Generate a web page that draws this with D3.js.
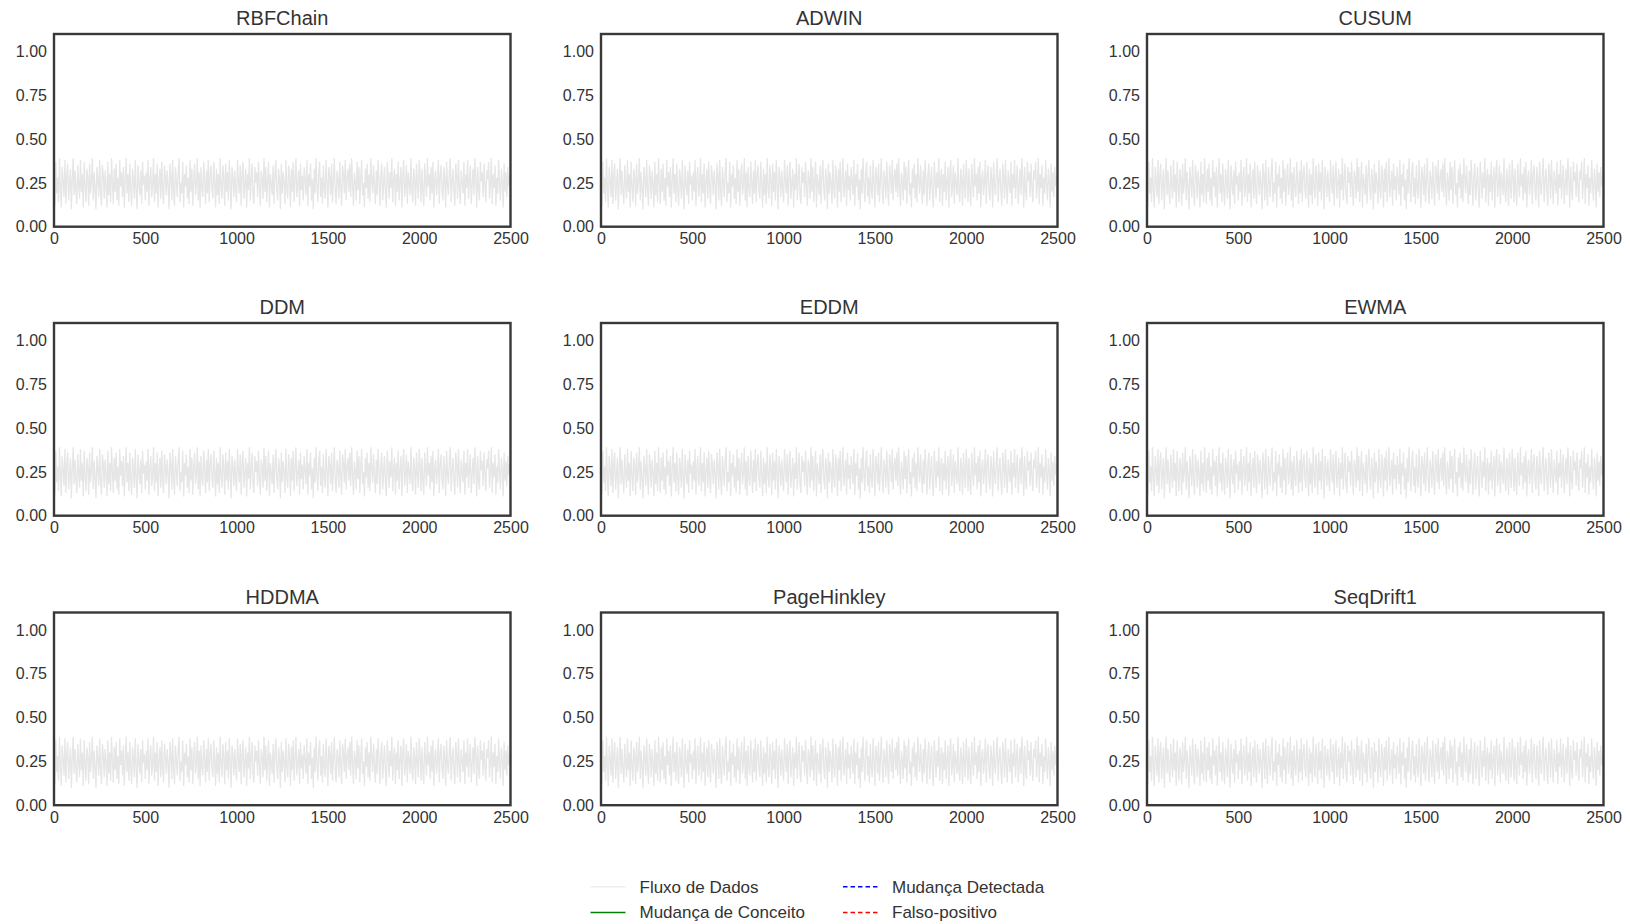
<!DOCTYPE html>
<html>
<head>
<meta charset="utf-8">
<script src="https://cdn.jsdelivr.net/npm/d3@7"></script>
<style>
  html, body { margin: 0; padding: 0; background: #fff; }
  svg { display: block; font-family: "Liberation Sans", Arial, sans-serif; }
</style>
</head>
<body>
<svg id="chart" width="1630" height="924"></svg>
<script>
const detectors = ["RBFChain", "ADWIN", "CUSUM", "DDM", "EDDM", "EWMA", "HDDMA", "PageHinkley", "SeqDrift1"];
const xTicks = [0, 500, 1000, 1500, 2000, 2500];
const yTicks = [0.00, 0.25, 0.50, 0.75, 1.00];
const streamLength = 2500;
const sampleStep = 5;
const legendItems = ["Fluxo de Dados", "Mudança de Conceito", "Mudança Detectada", "Falso-positivo"];
// Data stream values (sampled every 5 instances), read as a band between ~0.10 and ~0.40
const stream = [
0.31,0.12,0.37,0.19,0.28,0.14,0.39,0.22,0.11,0.34,0.26,0.17,0.38,0.13,0.29,0.36,0.15,0.24,0.33,0.10,0.27,0.39,0.18,0.32,0.21,
0.13,0.35,0.25,0.16,0.38,0.20,0.30,0.11,0.37,0.23,0.14,0.33,0.28,0.12,0.36,0.19,0.26,0.39,0.15,0.31,0.22,0.10,0.34,0.27,0.17,
0.38,0.21,0.12,0.35,0.29,0.16,0.32,0.24,0.11,0.37,0.18,0.30,0.14,0.39,0.25,0.13,0.33,0.20,0.36,0.15,0.28,0.12,0.38,0.23,0.31,
0.17,0.34,0.11,0.26,0.39,0.19,0.30,0.14,0.36,0.22,0.12,0.33,0.27,0.16,0.38,0.21,0.10,0.35,0.25,0.18,0.32,0.13,0.37,0.24,0.29,
0.15,0.31,0.20,0.38,0.12,0.27,0.34,0.17,0.23,0.39,0.14,0.30,0.19,0.36,0.11,0.26,0.33,0.16,0.37,0.22,0.13,0.35,0.28,0.18,0.32,
0.24,0.10,0.36,0.29,0.15,0.38,0.21,0.12,0.34,0.26,0.17,0.31,0.39,0.14,0.25,0.19,0.37,0.11,0.30,0.23,0.35,0.16,0.28,0.13,0.38,
0.20,0.33,0.12,0.27,0.36,0.18,0.24,0.39,0.15,0.31,0.11,0.34,0.22,0.17,0.37,0.26,0.13,0.32,0.19,0.38,0.14,0.29,0.35,0.21,0.16,
0.37,0.25,0.11,0.33,0.18,0.30,0.13,0.39,0.23,0.16,0.35,0.27,0.12,0.36,0.20,0.31,0.15,0.38,0.24,0.10,0.34,0.28,0.17,0.32,0.22,
0.14,0.38,0.26,0.19,0.35,0.12,0.29,0.37,0.16,0.24,0.33,0.11,0.30,0.21,0.39,0.15,0.27,0.36,0.18,0.13,0.34,0.25,0.31,0.17,0.37,
0.23,0.12,0.32,0.28,0.16,0.39,0.20,0.34,0.14,0.26,0.37,0.11,0.30,0.24,0.18,0.35,0.13,0.29,0.38,0.21,0.15,0.33,0.27,0.10,0.36,
0.19,0.31,0.25,0.13,0.38,0.22,0.16,0.35,0.28,0.11,0.33,0.20,0.37,0.14,0.27,0.39,0.17,0.24,0.32,0.12,0.36,0.21,0.29,0.15,0.34,
0.26,0.18,0.38,0.12,0.30,0.23,0.36,0.15,0.27,0.10,0.33,0.19,0.39,0.24,0.14,0.31,0.37,0.17,0.28,0.13,0.35,0.22,0.16,0.38,0.25,
0.11,0.34,0.29,0.18,0.36,0.14,0.26,0.39,0.21,0.13,0.32,0.27,0.16,0.37,0.23,0.12,0.35,0.30,0.19,0.38,0.15,0.28,0.33,0.20,0.36,
0.17,0.39,0.24,0.12,0.31,0.26,0.15,0.37,0.21,0.34,0.13,0.28,0.38,0.18,0.25,0.11,0.33,0.22,0.36,0.16,0.30,0.14,0.39,0.27,0.19,
0.35,0.23,0.13,0.32,0.18,0.38,0.26,0.12,0.29,0.36,0.15,0.24,0.34,0.19,0.11,0.37,0.28,0.16,0.31,0.22,0.39,0.14,0.27,0.33,0.12,
0.30,0.20,0.37,0.15,0.26,0.34,0.11,0.29,0.38,0.17,0.23,0.35,0.13,0.31,0.25,0.18,0.39,0.21,0.14,0.33,0.27,0.12,0.36,0.24,0.16,
0.38,0.28,0.14,0.33,0.21,0.12,0.36,0.26,0.17,0.39,0.23,0.30,0.15,0.34,0.19,0.37,0.11,0.27,0.32,0.18,0.25,0.38,0.13,0.29,0.35,
0.21,0.15,0.34,0.27,0.11,0.37,0.24,0.18,0.31,0.39,0.14,0.26,0.33,0.20,0.12,0.36,0.29,0.16,0.38,0.23,0.13,0.32,0.25,0.19,0.37,
0.12,0.30,0.22,0.38,0.16,0.27,0.35,0.13,0.24,0.33,0.18,0.39,0.28,0.11,0.34,0.21,0.15,0.37,0.26,0.31,0.17,0.36,0.23,0.14,0.32,
0.27,0.37,0.16,0.25,0.39,0.13,0.30,0.22,0.35,0.12,0.28,0.19,0.38,0.24,0.15,0.33,0.26,0.11,0.36,0.20,0.31,0.17,0.34,0.23,0.29
];

const svg = d3.select("#chart");
const colLeft = [54, 601, 1147];
const rowTop = [34, 323, 612.5];
const pw = 456.5, ph = 192.7;
const textColor = "#333";

const x = d3.scaleLinear().domain([0, streamLength]).range([0, pw]);
const y = d3.scaleLinear().domain([0, 1.1]).range([ph, 0]);
const line = d3.line().x((d, i) => x(i * sampleStep)).y(d => y(d));

svg.append("defs").append("clipPath").attr("id", "clip")
  .append("rect").attr("width", pw).attr("height", ph);

detectors.forEach((name, k) => {
  const g = svg.append("g")
    .attr("transform", `translate(${colLeft[k % 3]},${rowTop[Math.floor(k / 3)]})`);

  g.append("path")
    .datum(stream)
    .attr("clip-path", "url(#clip)")
    .attr("fill", "none")
    .attr("stroke", "#e6e6e6")
    .attr("stroke-width", 1.3)
    .attr("d", line);

  const xa = g.append("g").attr("transform", `translate(0,${ph})`)
    .call(d3.axisBottom(x).tickValues(xTicks).tickSize(0).tickPadding(6).tickFormat(d3.format("d")));
  xa.select(".domain").remove();
  xa.selectAll("text").attr("font-size", 16).attr("fill", textColor)
    .attr("font-family", "Liberation Sans, Arial, sans-serif");

  const ya = g.append("g")
    .call(d3.axisLeft(y).tickValues(yTicks).tickSize(0).tickPadding(7).tickFormat(d3.format(".2f")));
  ya.select(".domain").remove();
  ya.selectAll("text").attr("font-size", 16).attr("fill", textColor)
    .attr("font-family", "Liberation Sans, Arial, sans-serif");

  g.append("rect")
    .attr("width", pw).attr("height", ph)
    .attr("fill", "none").attr("stroke", "#383838").attr("stroke-width", 2.4);

  g.append("text")
    .attr("x", pw / 2).attr("y", -9)
    .attr("text-anchor", "middle")
    .attr("font-size", 20).attr("fill", textColor)
    .text(name);
});

// Legend
const legendStyle = [
  { color: "#eeeeee", dash: null },
  { color: "#008000", dash: null },
  { color: "#0000ff", dash: "4.5,3" },
  { color: "#ff0000", dash: "4.5,3" }
];
const legX = [590.5, 843];
const legY = [886.7, 912.5];
legendItems.forEach((label, i) => {
  const cx = legX[Math.floor(i / 2)], cy = legY[i % 2];
  const lg = svg.append("g").attr("transform", `translate(${cx},${cy})`);
  lg.append("line").attr("x1", 0).attr("x2", 35).attr("y1", 0).attr("y2", 0)
    .attr("stroke", legendStyle[i].color).attr("stroke-width", 1.6)
    .attr("stroke-dasharray", legendStyle[i].dash);
  lg.append("text").attr("x", 49).attr("y", 0).attr("dy", "0.35em")
    .attr("font-size", 17).attr("fill", textColor).text(label);
});
</script>
</body>
</html>
